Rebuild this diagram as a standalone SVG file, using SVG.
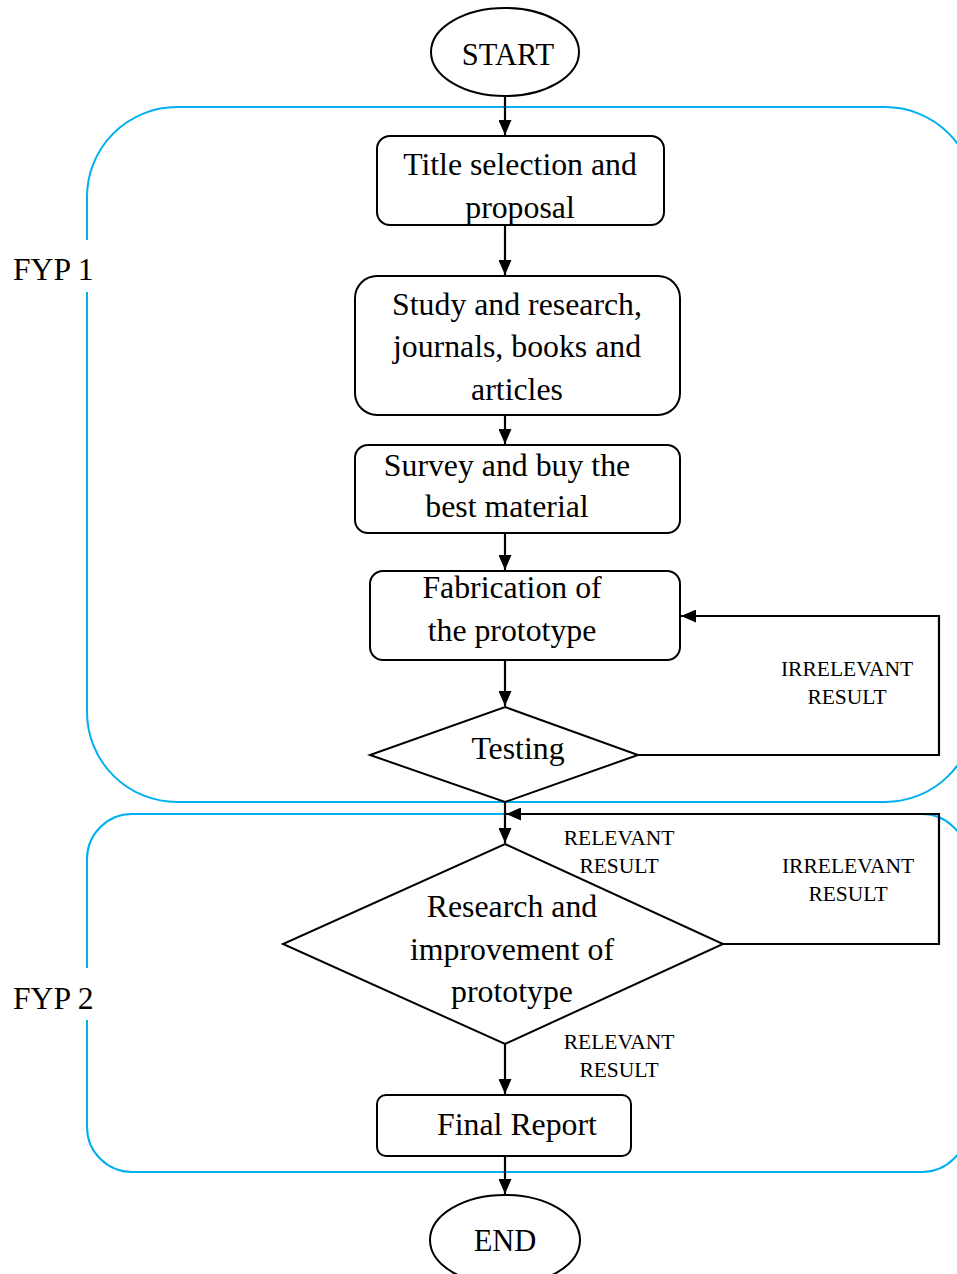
<svg xmlns="http://www.w3.org/2000/svg" width="957" height="1274" viewBox="0 0 957 1274">
<defs>
<marker id="ah" markerWidth="15" markerHeight="13" refX="15" refY="6.5" orient="auto" markerUnits="userSpaceOnUse">
<path d="M0,0 L15,6.5 L0,13 Z" fill="#000"/>
</marker>
<style>
.t{font-family:"Liberation Serif","Times New Roman",serif;font-size:31.8px;fill:#000;text-anchor:middle}
.s{font-family:"Liberation Serif","Times New Roman",serif;font-size:21.5px;fill:#000;text-anchor:middle}
.f{font-family:"Liberation Serif","Times New Roman",serif;font-size:31.6px;fill:#000}
.n{fill:#fff;stroke:#000;stroke-width:2}
.c{fill:none;stroke:#000;stroke-width:2.2}
.g{fill:none;stroke:#00B0F0;stroke-width:2}
</style>
</defs>
<rect width="957" height="1274" fill="#fff"/>
<g id="fyp1">
<rect class="g" x="87" y="107" width="888" height="695" rx="90" ry="90"/>
<rect x="8" y="240" width="92" height="52" fill="#fff"/>
<text class="f" x="13" y="280">FYP 1</text>
</g>
<g id="fyp2">
<rect class="g" x="87" y="814" width="880" height="358" rx="45" ry="45"/>
<rect x="8" y="968" width="92" height="52" fill="#fff"/>
<text class="f" x="13" y="1009">FYP 2</text>
</g>
<g id="connectors">
<line class="c" x1="505" y1="96" x2="505" y2="135" marker-end="url(#ah)"/>
<line class="c" x1="505" y1="225" x2="505" y2="275" marker-end="url(#ah)"/>
<line class="c" x1="505" y1="415" x2="505" y2="444" marker-end="url(#ah)"/>
<line class="c" x1="505" y1="533" x2="505" y2="570" marker-end="url(#ah)"/>
<line class="c" x1="505" y1="660" x2="505" y2="706" marker-end="url(#ah)"/>
<polyline class="c" points="638,755 939,755 939,616 681,616" marker-end="url(#ah)"/>
<line class="c" x1="505" y1="802" x2="505" y2="843" marker-end="url(#ah)"/>
<polyline class="c" points="723,944 939,944 939,814 506,814" marker-end="url(#ah)"/>
<line class="c" x1="505" y1="1044" x2="505" y2="1094" marker-end="url(#ah)"/>
<line class="c" x1="505" y1="1156" x2="505" y2="1194" marker-end="url(#ah)"/>
<text class="s" x="847" y="676">IRRELEVANT</text>
<text class="s" x="847" y="704">RESULT</text>
<text class="s" x="619" y="845">RELEVANT</text>
<text class="s" x="619" y="873">RESULT</text>
<text class="s" x="848" y="873">IRRELEVANT</text>
<text class="s" x="848" y="901">RESULT</text>
<text class="s" x="619" y="1049">RELEVANT</text>
<text class="s" x="619" y="1077">RESULT</text>
</g>
<g id="start">
<ellipse class="n" cx="505" cy="52" rx="74" ry="44"/>
<text class="t" x="508" y="65" style="font-size:30.5px">START</text>
</g>
<g id="title">
<rect class="n" x="377" y="136" width="287" height="89" rx="13"/>
<text class="t" x="520" y="175">Title selection and</text>
<text class="t" x="520" y="218">proposal</text>
</g>
<g id="study">
<rect class="n" x="355" y="276" width="325" height="139" rx="22"/>
<text class="t" x="517" y="315">Study and research,</text>
<text class="t" x="517" y="357">journals, books and</text>
<text class="t" x="517" y="400">articles</text>
</g>
<g id="survey">
<rect class="n" x="355" y="445" width="325" height="88" rx="13"/>
<text class="t" x="507" y="476">Survey and buy the</text>
<text class="t" x="507" y="517">best material</text>
</g>
<g id="fabrication">
<rect class="n" x="370" y="571" width="310" height="89" rx="13"/>
<text class="t" x="512" y="598">Fabrication of</text>
<text class="t" x="512" y="641">the prototype</text>
</g>
<g id="testing">
<polygon class="n" points="505,707 638,755 505,802 370,755"/>
<text class="t" x="518" y="759">Testing</text>
</g>
<g id="research">
<polygon class="n" points="505,844 723,944 505,1044 283,944"/>
<text class="t" x="512" y="917">Research and</text>
<text class="t" x="512" y="960">improvement of</text>
<text class="t" x="512" y="1002">prototype</text>
</g>
<g id="final">
<rect class="n" x="377" y="1095" width="254" height="61" rx="9"/>
<text class="t" x="517" y="1135">Final Report</text>
</g>
<g id="end">
<ellipse class="n" cx="505" cy="1240" rx="75" ry="45"/>
<text class="t" x="505" y="1251" style="font-size:30.5px">END</text>
</g>
</svg>
